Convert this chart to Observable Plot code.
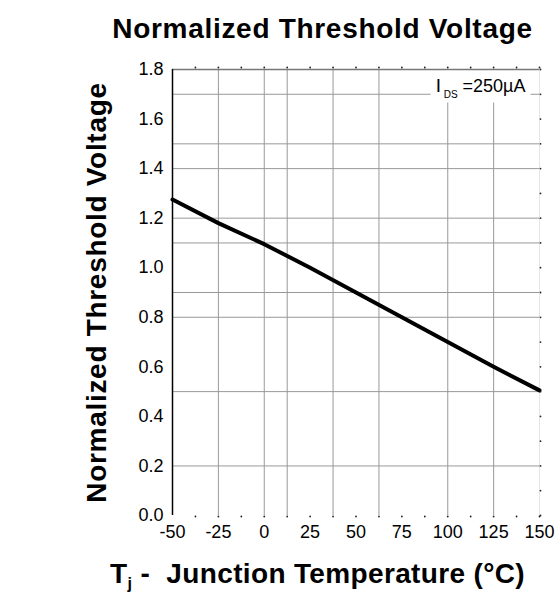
<!DOCTYPE html>
<html>
<head>
<meta charset="utf-8">
<script src="https://cdn.jsdelivr.net/npm/d3@7"></script>
<script src="https://cdn.jsdelivr.net/npm/@observablehq/plot@0.6"></script>
<style>
  html, body { margin: 0; padding: 0; background: white; }
</style>
</head>
<body>
<div id="chart"></div>
<script>
// ---- data ----
const temps = [-50, -25, 0, 25, 50, 75, 100, 125, 150];
const volts = [1.275, 1.18, 1.095, 1.0, 0.9, 0.8, 0.7, 0.6, 0.505];

const xTicks = [-50, -25, 0, 25, 50, 75, 100, 125, 150];
const yTicks = [0, 0.2, 0.4, 0.6, 0.8, 1.0, 1.2, 1.4, 1.6, 1.8];
const gridX = [-25, 0, 12.5, 37.5, 62.5, 100, 125];
const gridY = [0.2, 0.5, 0.8, 0.9, 1.1, 1.2, 1.4, 1.5, 1.7];
const minorX = [-37.5, -25, -12.5, 0, 12.5, 25, 37.5, 50, 62.5, 75, 87.5, 100, 112.5, 125, 137.5, 150];
const minorY = [0, 0.1, 0.2, 0.3, 0.4, 0.5, 0.6, 0.7, 0.8, 0.9, 1.0, 1.1, 1.2, 1.3, 1.4, 1.5, 1.6, 1.7, 1.8];

const titleText = "Normalized Threshold Voltage";
const yLabel = "Normalized Threshold Voltage";
const xLabel = "Tj - Junction Temperature (°C)";
const annotation = "IDS =250µA";

const rows = temps.map((t, i) => ({t, v: volts[i]}));
const font = "'Liberation Sans', Arial, Helvetica, sans-serif";

const svg = Plot.plot({
  width: 555,
  height: 594,
  marginLeft: 172,
  marginRight: 16,
  marginTop: 69,
  marginBottom: 79,
  style: {fontFamily: font, background: "white", overflow: "visible", color: "black"},
  x: {domain: [-50, 150]},
  y: {domain: [0, 1.8]},
  marks: [
    Plot.ruleY(gridY, {stroke: "#999", strokeWidth: 1}),
    Plot.ruleX(gridX, {stroke: "#999", strokeWidth: 1}),
    Plot.ruleX([150], {stroke: "#e6e6e6", strokeWidth: 1}),
    Plot.text([annotation], {frameAnchor: "top-right", dx: -14, dy: 22, textAnchor: "end", lineAnchor: "bottom", fontSize: 18, fill: "black"}),
    Plot.line(rows, {x: "t", y: "v", stroke: "black", strokeWidth: 4}),
    Plot.ruleY([1.8], {stroke: "#777", strokeWidth: 1.5}),
    Plot.ruleX([-50], {stroke: "black", strokeWidth: 1.5}),
    Plot.dot(minorX, {x: d => d, frameAnchor: "bottom", dy: 1, r: 0.9, fill: "#222", stroke: null}),
    Plot.dot(minorX, {x: d => d, frameAnchor: "top", dy: -2, r: 0.9, fill: "#222", stroke: null}),
    Plot.dot(minorY, {y: d => d, frameAnchor: "right", dx: 1, r: 0.9, fill: "#222", stroke: null}),
    Plot.axisX(xTicks, {tickSize: 0, tickPadding: 10, fontSize: 18, tickFormat: d => String(d), label: null}),
    Plot.axisY(yTicks, {tickSize: 0, tickPadding: 9, fontSize: 18, tickFormat: d3.format(".1f"), label: null}),
    Plot.text([titleText], {frameAnchor: "top-left", dx: 150, dy: -32, textAnchor: "middle", lineAnchor: "bottom", fontSize: 28, fontWeight: "bold", fill: "black"}),
    Plot.text([xLabel], {frameAnchor: "bottom-left", dx: 145, dy: 67, textAnchor: "middle", lineAnchor: "bottom", fontSize: 28, fontWeight: "bold", fill: "black"}),
    Plot.text([yLabel], {frameAnchor: "left", dx: -75, rotate: -90, textAnchor: "middle", lineAnchor: "middle", fontSize: 28, fontWeight: "bold", fill: "black"})
  ]
});

document.getElementById("chart").appendChild(svg);

const root = d3.select(svg);
function findText(str) {
  return root.selectAll("text").filter(function() { return this.textContent === str; });
}

// widen the bold labels slightly
findText(titleText).attr("letter-spacing", 0.7);
findText(xLabel).attr("letter-spacing", 0.35);

// x label with subscript j
findText(xLabel).each(function() {
  const t = d3.select(this);
  t.text(null);
  t.append("tspan").text("T");
  t.append("tspan").attr("font-size", 16).attr("dy", 6).text("j");
  t.append("tspan").attr("dy", -6).text(" -  Junction Temperature (°C)");
});

// annotation with subscript DS and white box
findText(annotation).each(function() {
  const t = d3.select(this);
  t.text(null);
  t.append("tspan").attr("font-size", 19).text("I");
  t.append("tspan").attr("font-size", 10).attr("dy", 6).text(" DS");
  t.append("tspan").attr("dy", -6).text(" =250µA");
  const bb = this.getBBox();
  d3.select(this.parentNode).insert("rect", () => this)
    .attr("transform", t.attr("transform"))
    .attr("x", bb.x - 5)
    .attr("y", bb.y - 8)
    .attr("width", bb.width + 10)
    .attr("height", bb.height + 11)
    .attr("fill", "white");
});
</script>
</body>
</html>
